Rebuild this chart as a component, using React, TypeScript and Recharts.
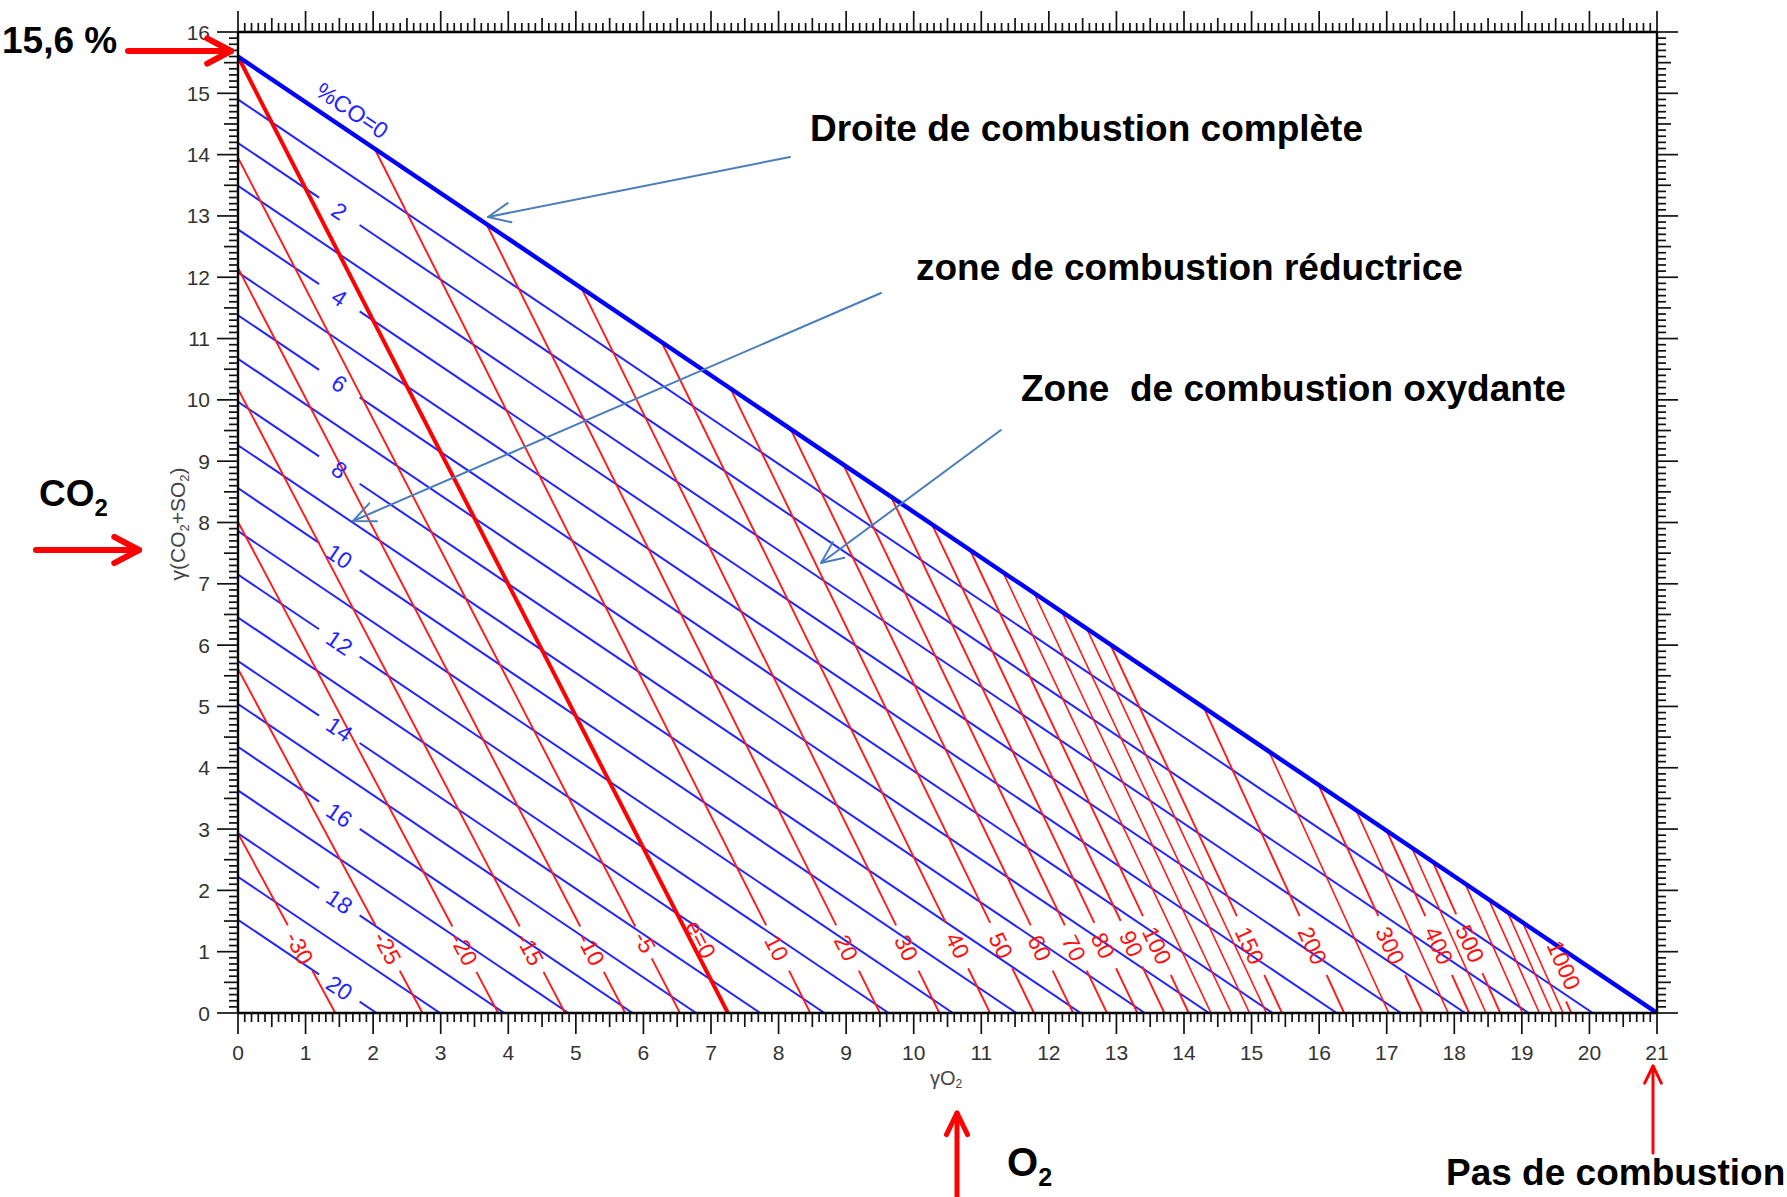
import { ComposedChart, Line, Scatter, XAxis, YAxis } from "recharts";

// iso-CO lines (% CO in dry fumes); 0 is the complete combustion line
const CO_PCT = [0, 1, 2, 3, 4, 5, 6, 7, 8, 9, 10, 11, 12, 13, 14, 15, 16, 17, 18, 19, 20];
// γ(CO2+SO2) where the line meets γO2 = 0
const CO_Y0 = [15.6, 14.9, 14.19, 13.49, 12.78, 12.08, 11.38, 10.67, 9.97, 9.26, 8.56, 7.86, 7.15, 6.45, 5.74, 5.04, 4.34, 3.63, 2.93, 2.22, 1.52];
// γO2 where the line meets γ(CO2+SO2) = 0
const CO_X0 = [21, 20.05, 19.1, 18.16, 17.21, 16.26, 15.31, 14.37, 13.42, 12.47, 11.52, 10.58, 9.63, 8.68, 7.73, 6.78, 5.84, 4.89, 3.94, 2.99, 2.05];
const CO_LABELED = [2, 4, 6, 8, 10, 12, 14, 16, 18, 20];
const CO_LABEL_X = 1.5;
const CO_GAP = [1.2, 1.8];
const CO_ZERO_LABEL = { text: "%CO=0", x: 1.69, y: 14.72 };

// iso excess-air lines (%), from upper end to the γO2 axis
const E_PCT = [-30, -25, -20, -15, -10, -5, 0, 10, 20, 30, 40, 50, 60, 70, 80, 90, 100, 110, 120, 130, 140, 150, 200, 250, 300, 350, 400, 450, 500, 600, 700, 800, 900, 1000];
const E_TOP_X = [0, 0, 0, 0, 0, 0, 0, 2.02, 3.68, 5.08, 6.27, 7.29, 8.18, 8.96, 9.66, 10.27, 10.83, 11.32, 11.78, 12.19, 12.56, 12.91, 14.29, 15.26, 15.99, 16.55, 17.0, 17.37, 17.68, 18.16, 18.51, 18.79, 19.01, 19.2];
const E_TOP_Y = [2.93, 5.61, 8.01, 10.18, 12.15, 13.95, 15.6, 14.1, 12.86, 11.83, 10.94, 10.18, 9.52, 8.94, 8.43, 7.97, 7.56, 7.19, 6.85, 6.55, 6.27, 6.01, 4.99, 4.26, 3.72, 3.3, 2.97, 2.7, 2.47, 2.11, 1.85, 1.64, 1.48, 1.34];
const E_BOT_X = [1.44, 2.73, 3.85, 4.84, 5.73, 6.54, 7.25, 8.47, 9.5, 10.38, 11.13, 11.78, 12.36, 12.86, 13.31, 13.71, 14.07, 14.4, 14.7, 14.97, 15.22, 15.45, 16.37, 17.03, 17.53, 17.91, 18.22, 18.47, 18.68, 19.01, 19.26, 19.45, 19.61, 19.73];

const E_LABEL_PCT = [-30, -25, -20, -15, -10, -5, 0, 10, 20, 30, 40, 50, 60, 70, 80, 90, 100, 150, 200, 300, 400, 500, 1000];
const E_LABEL_TEXT = ["-30", "-25", "-20", "-15", "-10", "-5", "e=0", "10", "20", "30", "40", "50", "60", "70", "80", "90", "100", "150", "200", "300", "400", "500", "1000"];
const E_LABEL_X = [0.91, 2.21, 3.34, 4.32, 5.22, 6.02, 6.85, 7.97, 9.0, 9.89, 10.65, 11.29, 11.86, 12.37, 12.8, 13.22, 13.6, 14.97, 15.9, 17.05, 17.77, 18.23, 19.62];
const E_LABEL_Y = [1.06, 1.06, 1.04, 1.04, 1.04, 1.15, 1.2, 1.06, 1.06, 1.06, 1.1, 1.1, 1.06, 1.06, 1.1, 1.13, 1.1, 1.1, 1.1, 1.1, 1.1, 1.13, 0.78];

const X_MAJOR = [0, 1, 2, 3, 4, 5, 6, 7, 8, 9, 10, 11, 12, 13, 14, 15, 16, 17, 18, 19, 20, 21];
const Y_MAJOR = [0, 1, 2, 3, 4, 5, 6, 7, 8, 9, 10, 11, 12, 13, 14, 15, 16];

const X_TICKS = Array.from({ length: 211 }, (_, i) => i / 10);
const Y_TICKS = Array.from({ length: 161 }, (_, i) => i / 10);

const W = 1787;
const H = 1197;
const PLOT_L = 238;
const PLOT_T = 32;
const PLOT_R = 1657;
const PLOT_B = 1013;
const PX = (PLOT_R - PLOT_L) / 21;
const PY = (PLOT_B - PLOT_T) / 16;

const FONT = '"Liberation Sans", Arial, Helvetica, sans-serif';
const BLUE = "#2424ff";
const RED = "#ff1a1a";
const TICK_LEN = [9, 14, 21];
const AXIS = { stroke: "#000", strokeWidth: 2.4 };

type Pt = { x: number; y: number };
type Seg = { id: string; pts: Pt[]; color: string; width: number };

function xAtY(a: Pt, b: Pt, y: number) {
  return a.x + ((b.x - a.x) * (a.y - y)) / (a.y - b.y);
}

function buildSegments() {
  const blue: Seg[] = [];
  CO_PCT.forEach((k, i) => {
    if (k === 0) return;
    const a = { x: 0, y: CO_Y0[i] };
    const b = { x: CO_X0[i], y: 0 };
    const yAt = (x: number) => a.y * (1 - x / b.x);
    if (CO_LABELED.includes(k)) {
      blue.push({ id: `co${k}a`, pts: [a, { x: CO_GAP[0], y: yAt(CO_GAP[0]) }], color: BLUE, width: 2 });
      blue.push({ id: `co${k}b`, pts: [{ x: CO_GAP[1], y: yAt(CO_GAP[1]) }, b], color: BLUE, width: 2 });
    } else {
      blue.push({ id: `co${k}`, pts: [a, b], color: BLUE, width: 2 });
    }
  });

  const red: Seg[] = [];
  E_PCT.forEach((p, i) => {
    if (p === 0) return;
    const top = { x: E_TOP_X[i], y: E_TOP_Y[i] };
    const bot = { x: E_BOT_X[i], y: 0 };
    const li = E_LABEL_PCT.indexOf(p);
    if (li < 0) {
      red.push({ id: `e${p}`, pts: [top, bot], color: RED, width: 1.6 });
      return;
    }
    const n = E_LABEL_TEXT[li].replace("-", "").length;
    const h = 0.15 + 0.11 * n;
    const yA = E_LABEL_Y[li] + h;
    const yB = E_LABEL_Y[li] - h;
    if (yA < top.y) red.push({ id: `e${p}a`, pts: [top, { x: xAtY(top, bot, yA), y: yA }], color: RED, width: 1.9 });
    if (yB > 0) red.push({ id: `e${p}b`, pts: [{ x: xAtY(top, bot, yB), y: yB }, bot], color: RED, width: 1.9 });
  });

  const i0 = E_PCT.indexOf(0);
  const thick: Seg[] = [
    { id: "e0", pts: [{ x: E_TOP_X[i0], y: E_TOP_Y[i0] }, { x: E_BOT_X[i0], y: 0 }], color: "#ff0000", width: 4 },
    { id: "co0", pts: [{ x: 0, y: CO_Y0[0] }, { x: CO_X0[0], y: 0 }], color: "#0000ff", width: 4.4 },
  ];
  return [...blue, ...red, ...thick];
}

const blueAngle = (Math.atan2(CO_Y0[0] * PY, CO_X0[0] * PX) * 180) / Math.PI;

const blueLabels = [
  ...CO_LABELED.map((k) => {
    const i = CO_PCT.indexOf(k);
    return { x: CO_LABEL_X, y: CO_Y0[i] * (1 - CO_LABEL_X / CO_X0[i]), t: String(k), a: blueAngle };
  }),
  { x: CO_ZERO_LABEL.x, y: CO_ZERO_LABEL.y, t: CO_ZERO_LABEL.text, a: blueAngle },
];

const redLabels = E_LABEL_PCT.map((p, li) => {
  const i = E_PCT.indexOf(p);
  const a = (Math.atan2(E_TOP_Y[i] * PY, (E_BOT_X[i] - E_TOP_X[i]) * PX) * 180) / Math.PI;
  return { x: E_LABEL_X[li], y: E_LABEL_Y[li], t: E_LABEL_TEXT[li], a };
});

function tickKind(v: number) {
  const i = Math.round(v * 10);
  return i % 10 === 0 ? 2 : i % 5 === 0 ? 1 : 0;
}

function BottomTick(p: any) {
  const v = p.payload.value;
  const k = tickKind(v);
  const showLabel = k === 2 && X_MAJOR.includes(Math.round(v));
  return (
    <g>
      <line x1={p.x} x2={p.x} y1={p.y} y2={p.y + TICK_LEN[k]} stroke="#111" strokeWidth={1.7} />
      {showLabel && (
        <text x={p.x} y={p.y + 47} textAnchor="middle" fontSize={21} fill="#333" fontFamily={FONT}>
          {Math.round(v)}
        </text>
      )}
    </g>
  );
}

function TopTick(p: any) {
  const k = tickKind(p.payload.value);
  return <line x1={p.x} x2={p.x} y1={p.y} y2={p.y - TICK_LEN[k]} stroke="#111" strokeWidth={1.7} />;
}

function LeftTick(p: any) {
  const v = p.payload.value;
  const k = tickKind(v);
  const showLabel = k === 2 && Y_MAJOR.includes(Math.round(v));
  return (
    <g>
      <line x1={p.x} x2={p.x - TICK_LEN[k]} y1={p.y} y2={p.y} stroke="#111" strokeWidth={1.7} />
      {showLabel && (
        <text x={p.x - 28} y={p.y} dy="0.36em" textAnchor="end" fontSize={21} fill="#333" fontFamily={FONT}>
          {Math.round(v)}
        </text>
      )}
    </g>
  );
}

function RightTick(p: any) {
  const k = tickKind(p.payload.value);
  return <line x1={p.x} x2={p.x + TICK_LEN[k]} y1={p.y} y2={p.y} stroke="#111" strokeWidth={1.7} />;
}

function makeLabelShape(color: string, size: number) {
  return (p: any) => (
    <text
      x={p.cx}
      y={p.cy}
      transform={`rotate(${p.payload.a} ${p.cx} ${p.cy})`}
      textAnchor="middle"
      dominantBaseline="central"
      fontSize={size}
      fill={color}
      fontFamily={FONT}
    >
      {p.payload.t}
    </text>
  );
}

function Arrow({ x1, y1, x2, y2, color, width, head, spread }: any) {
  const ang = Math.atan2(y2 - y1, x2 - x1);
  const s = (spread * Math.PI) / 180;
  const b1 = [x2 + head * Math.cos(ang + Math.PI - s), y2 + head * Math.sin(ang + Math.PI - s)];
  const b2 = [x2 + head * Math.cos(ang + Math.PI + s), y2 + head * Math.sin(ang + Math.PI + s)];
  return (
    <g stroke={color} strokeWidth={width} strokeLinecap="round" strokeLinejoin="round" fill="none">
      <line x1={x1} y1={y1} x2={x2} y2={y2} />
      <polyline points={`${b1[0]},${b1[1]} ${x2},${y2} ${b2[0]},${b2[1]}`} />
    </g>
  );
}

const boldText = { fontFamily: FONT, fontWeight: 700, fontSize: 37, fill: "#000", whiteSpace: "pre" as const };

export default function App() {
  const segs = buildSegments();
  return (
    <div style={{ position: "relative", width: W, height: H, background: "#fff" }}>
      <style>{"body{margin:0}"}</style>
      <ComposedChart
        width={W}
        height={H}
        margin={{ top: PLOT_T - 30, right: W - PLOT_R - 30, bottom: H - PLOT_B - 60, left: PLOT_L - 70 }}
      >
        <XAxis
          xAxisId="b"
          dataKey="x"
          type="number"
          domain={[0, 21]}
          allowDataOverflow
          ticks={X_TICKS}
          interval={0}
          tickSize={0}
          tickMargin={0}
          tickLine={false}
          tick={BottomTick}
          height={60}
          axisLine={AXIS}
        />
        <XAxis
          xAxisId="t"
          orientation="top"
          dataKey="x"
          type="number"
          domain={[0, 21]}
          allowDataOverflow
          ticks={X_TICKS}
          interval={0}
          tickSize={0}
          tickMargin={0}
          tickLine={false}
          tick={TopTick}
          height={30}
          axisLine={AXIS}
        />
        <YAxis
          yAxisId="l"
          dataKey="y"
          type="number"
          domain={[0, 16]}
          allowDataOverflow
          ticks={Y_TICKS}
          interval={0}
          tickSize={0}
          tickMargin={0}
          tickLine={false}
          tick={LeftTick}
          width={70}
          axisLine={AXIS}
        />
        <YAxis
          yAxisId="r"
          orientation="right"
          dataKey="y"
          type="number"
          domain={[0, 16]}
          allowDataOverflow
          ticks={Y_TICKS}
          interval={0}
          tickSize={0}
          tickMargin={0}
          tickLine={false}
          tick={RightTick}
          width={30}
          axisLine={AXIS}
        />
        {segs.map((s) => (
          <Line
            key={s.id}
            xAxisId="b"
            yAxisId="l"
            data={s.pts}
            dataKey="y"
            type="linear"
            stroke={s.color}
            strokeWidth={s.width}
            dot={false}
            activeDot={false}
            legendType="none"
            isAnimationActive={false}
          />
        ))}
        <Scatter
          xAxisId="b"
          yAxisId="l"
          data={blueLabels}
          dataKey="y"
          shape={makeLabelShape(BLUE, 23)}
          isAnimationActive={false}
          legendType="none"
        />
        <Scatter
          xAxisId="b"
          yAxisId="l"
          data={redLabels}
          dataKey="y"
          shape={makeLabelShape("#ff1010", 23)}
          isAnimationActive={false}
          legendType="none"
        />
      </ComposedChart>

      <svg width={W} height={H} style={{ position: "absolute", left: 0, top: 0, pointerEvents: "none" }}>
        {/* axis titles */}
        <text transform="translate(185 524) rotate(-90)" textAnchor="middle" fontSize={21} fill="#444" fontFamily={FONT}>
          γ(CO<tspan fontSize={13} dy={4}>2</tspan>
          <tspan dy={-4}>+SO</tspan>
          <tspan fontSize={13} dy={4}>2</tspan>
          <tspan dy={-4}>)</tspan>
        </text>
        <text x={946} y={1085} textAnchor="middle" fontSize={20} fill="#444" fontFamily={FONT}>
          γO<tspan fontSize={12} dy={3}>2</tspan>
        </text>

        {/* annotations */}
        <text x={2} y={53} style={boldText}>15,6 %</text>
        <text x={810} y={141} style={boldText}>Droite de combustion complète</text>
        <text x={916} y={280} style={boldText}>zone de combustion réductrice</text>
        <text x={1021} y={401} style={boldText}>Zone  de combustion oxydante</text>
        <text x={39} y={506} style={boldText}>
          CO<tspan fontSize={24} dy={10}>2</tspan>
        </text>
        <text x={1007} y={1176} style={{ ...boldText, fontSize: 40 }}>
          O<tspan fontSize={25} dy={10}>2</tspan>
        </text>
        <text x={1446} y={1185} style={boldText}>Pas de combustion</text>

        <Arrow x1={128} y1={51} x2={231} y2={51} color="#ff0000" width={6} head={27} spread={28} />
        <Arrow x1={36} y1={550} x2={139} y2={550} color="#ff0000" width={6} head={28} spread={28} />
        <Arrow x1={957} y1={1197} x2={957} y2={1113} color="#ff0000" width={5} head={24} spread={26} />
        <Arrow x1={1653} y1={1153} x2={1653} y2={1066} color="#ff0000" width={3} head={19} spread={26} />

        <Arrow x1={790} y1={157} x2={488} y2={217} color="#4a7ebb" width={2} head={24} spread={24} />
        <Arrow x1={881} y1={293} x2={353} y2={521} color="#4a7ebb" width={2} head={24} spread={24} />
        <Arrow x1={1001} y1={430} x2={821} y2={563} color="#4a7ebb" width={2} head={24} spread={24} />
      </svg>
    </div>
  );
}
